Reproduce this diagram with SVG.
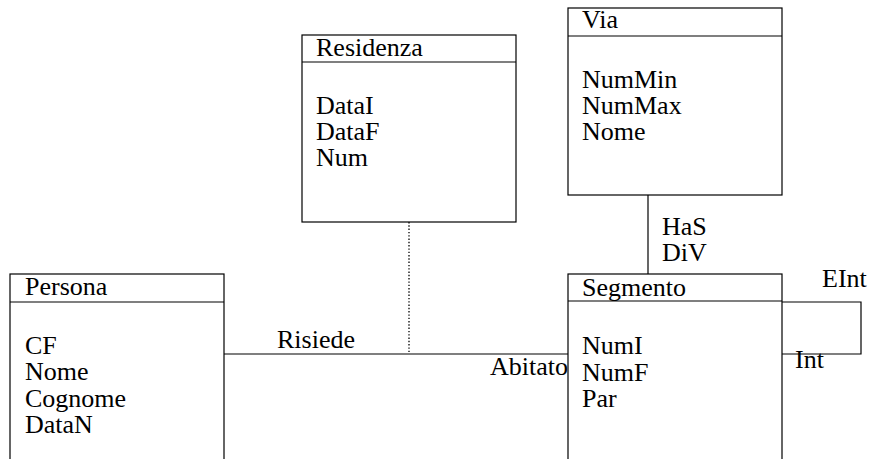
<svg xmlns="http://www.w3.org/2000/svg" width="873" height="459" viewBox="0 0 873 459">
<rect width="873" height="459" fill="#fff"/>
<g id="connectors">
<line x1="224" y1="354" x2="568" y2="354" stroke="#000" stroke-width="1.2"/>
<line x1="409" y1="222" x2="409" y2="354" stroke="#000" stroke-width="1.3" stroke-dasharray="1.4 1.9"/>
<line x1="648" y1="195" x2="648" y2="274" stroke="#000" stroke-width="1.2"/>
<polyline points="782,302 861,302 861,354 782,354" fill="none" stroke="#000" stroke-width="1.2"/>
<text x="277" y="348" font-family="Liberation Serif" font-size="26">Risiede</text>
<text x="490" y="375" font-family="Liberation Serif" font-size="26">Abitato</text>
<text x="662" y="235" font-family="Liberation Serif" font-size="26">HaS</text>
<text x="662" y="261" font-family="Liberation Serif" font-size="26">DiV</text>
<text x="822" y="287" font-family="Liberation Serif" font-size="26">EInt</text>
<text x="795" y="368" font-family="Liberation Serif" font-size="26">Int</text>
</g>
<g id="Persona">
<rect x="10" y="274" width="214" height="200" fill="#fff" stroke="#000" stroke-width="1.2"/>
<line x1="10" y1="302" x2="224" y2="302" stroke="#000" stroke-width="1.2"/>
<text x="25" y="295" font-family="Liberation Serif" font-size="26">Persona</text>
<text x="25" y="354" font-family="Liberation Serif" font-size="26">CF</text>
<text x="25" y="380" font-family="Liberation Serif" font-size="26">Nome</text>
<text x="25" y="407" font-family="Liberation Serif" font-size="26">Cognome</text>
<text x="25" y="433" font-family="Liberation Serif" font-size="26">DataN</text>
</g>
<g id="Residenza">
<rect x="302" y="35" width="214" height="187" fill="#fff" stroke="#000" stroke-width="1.2"/>
<line x1="302" y1="62" x2="516" y2="62" stroke="#000" stroke-width="1.2"/>
<text x="316" y="56" font-family="Liberation Serif" font-size="26">Residenza</text>
<text x="316" y="114" font-family="Liberation Serif" font-size="26">DataI</text>
<text x="316" y="140" font-family="Liberation Serif" font-size="26">DataF</text>
<text x="316" y="166" font-family="Liberation Serif" font-size="26">Num</text>
</g>
<g id="Via">
<rect x="568" y="8" width="214" height="187" fill="#fff" stroke="#000" stroke-width="1.2"/>
<line x1="568" y1="36" x2="782" y2="36" stroke="#000" stroke-width="1.2"/>
<text x="582" y="28" font-family="Liberation Serif" font-size="26">Via</text>
<text x="582" y="88" font-family="Liberation Serif" font-size="26">NumMin</text>
<text x="582" y="114" font-family="Liberation Serif" font-size="26">NumMax</text>
<text x="582" y="140" font-family="Liberation Serif" font-size="26">Nome</text>
</g>
<g id="Segmento">
<rect x="568" y="274" width="214" height="200" fill="#fff" stroke="#000" stroke-width="1.2"/>
<line x1="568" y1="301" x2="782" y2="301" stroke="#000" stroke-width="1.2"/>
<text x="582" y="296" font-family="Liberation Serif" font-size="26">Segmento</text>
<text x="582" y="354" font-family="Liberation Serif" font-size="26">NumI</text>
<text x="582" y="381" font-family="Liberation Serif" font-size="26">NumF</text>
<text x="582" y="407" font-family="Liberation Serif" font-size="26">Par</text>
</g>
</svg>
